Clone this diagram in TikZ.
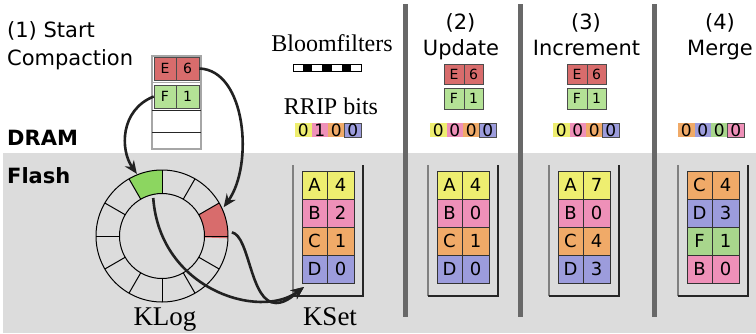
\documentclass[tikz,border=0pt]{standalone}
\usepackage{fontspec}
\setmainfont{Liberation Serif}
\setsansfont{DejaVu Sans}
\usetikzlibrary{arrows.meta}
\definecolor{bgc}{RGB}{220,220,220}
\definecolor{divc}{RGB}{104,104,104}
\definecolor{yel}{RGB}{238,238,112}
\definecolor{pnk}{RGB}{238,144,184}
\definecolor{org}{RGB}{240,170,104}
\definecolor{pur}{RGB}{156,156,220}
\definecolor{grn}{RGB}{168,214,140}
\definecolor{lgrn}{RGB}{180,226,150}
\definecolor{redc}{RGB}{216,108,108}
\definecolor{rgrn}{RGB}{140,214,96}
\tikzset{
  hd/.style={font=\sffamily\fontsize{21}{24}\selectfont, inner sep=0pt},
  bd/.style={font=\sffamily\bfseries\fontsize{21}{24}\selectfont, inner sep=0pt},
  sr/.style={font=\fontsize{24}{26}\selectfont, inner sep=0pt},
  srbig/.style={font=\fontsize{27}{29}\selectfont, inner sep=0pt},
  kc/.style={draw=black!80, line width=0.6pt, minimum height=28pt, inner sep=0pt,
    text height=13pt, text depth=0pt, font=\sffamily\fontsize{18}{18}\selectfont},
  sc/.style={draw=black!70, line width=0.6pt, inner sep=0pt, minimum height=20pt,
    text height=10pt, text depth=0pt, font=\sffamily\fontsize{14}{14}\selectfont},
  rb/.style={inner sep=0pt, minimum width=16.5pt, minimum height=14pt,
    text height=12.5pt, text depth=0pt, font=\sffamily\fontsize{17}{17}\selectfont},
  arr/.style={draw=black!87, line width=2.6pt, -{Stealth[length=13pt,width=11pt]}},
  cont/.style={line width=1.3pt},
}
\newcommand{\kcell}[6]{%
  \node[kc, fill=#6, minimum width=25pt] (#1l) at ({#2+12.5},{185+28*#3}) {#4};
  \node[kc, fill=#6, minimum width=27pt] (#1v) at ({#2+38.5},{185+28*#3}) {#5};}
\newcommand{\kbox}[2]{%
  \draw[cont, gray] ({#2-9},165) -- ({#2-9},296);
  \draw[cont, black!85] ({#2-9},296) -- ({#2+61},296) -- ({#2+61},165);
  \coordinate (#1) at ({#2+26},296);}
\newcommand{\rbit}[5]{%
  \node[rb, fill=#3, #5] (#1) at ({#2+8.25},130) {#4};}
\newcommand{\smallpair}[2]{%
  \node[sc, fill=redc, minimum width=20pt] (#1e) at ({#2+10},74.5) {E};
  \node[sc, fill=redc, minimum width=19pt] (#1s) at ({#2+29.5},74.5) {6};
  \node[sc, fill=lgrn, minimum width=20pt, minimum height=21pt] (#1f) at ({#2+10},98.5) {F};
  \node[sc, fill=lgrn, minimum width=19pt, minimum height=21pt] (#1o) at ({#2+29.5},98.5) {1};}
\begin{document}
\begin{tikzpicture}[x=1pt,y=-1pt]
\useasboundingbox (0,0) rectangle (756,333);
\fill[white] (0,0) rectangle (756,333);
\fill[bgc] (3,153) rectangle (756,333);
% dividers
\foreach \xx in {405.5,520,654} \draw[divc, line width=5pt] (\xx,4) -- (\xx,317);
% headings
\node[hd, anchor=base west] (h1a) at (7,37) {(1) Start};
\node[hd, anchor=base west] (h1b) at (7,65) {Compaction};
\node[hd, anchor=base] (h2a) at (460.5,29) {(2)};
\node[hd, anchor=base] (h2b) at (461,55) {Update};
\node[hd, anchor=base] (h3a) at (586,29) {(3)};
\node[hd, anchor=base] (h3b) at (586.5,55) {Increment};
\node[hd, anchor=base] (h4a) at (720,29) {(4)};
\node[hd, anchor=base] (h4b) at (720,55) {Merge};
\node[bd, anchor=base west] (dram) at (7,145) {DRAM};
\node[bd, anchor=base west] (flash) at (7,183) {Flash};
\node[sr, anchor=base] (bloom) at (332,51) {Bloomfilters};
\node[sr, anchor=base] (rrip) at (331,114) {RRIP bits};
\node[srbig, anchor=base] (klog) at (165,325) {KLog};
\node[srbig, anchor=base] (kset) at (330,325) {KSet};
% bloom bar
\foreach \i in {0,...,6} {
  \pgfmathsetmacro{\xa}{293+\i*68/7}
  \pgfmathsetmacro{\xb}{293+(\i+1)*68/7}
  \pgfmathtruncatemacro{\odd}{mod(\i,2)}
  \ifnum\odd=1 \fill[black] (\xa,64) rectangle (\xb,71); \fi
}
\draw[black, line width=0.8pt] (293,64) rectangle (361,71);
% DRAM buffer
\draw[gray!70, line width=1.2pt] (152,56) rectangle (201,149);
\node[sc, fill=redc, minimum width=22pt, minimum height=23pt] (be) at (165,68.5) {E};
\node[sc, fill=redc, minimum width=23pt, minimum height=23pt] (bs) at (187.5,68.5) {6};
\draw[gray!70, line width=1.2pt] (152,82.5) -- (201,82.5);
\node[sc, fill=lgrn, minimum width=22pt, minimum height=23pt] (bf) at (165,96.5) {F};
\node[sc, fill=lgrn, minimum width=23pt, minimum height=23pt] (bo) at (187.5,96.5) {1};
\draw[black!85, line width=1pt] (152,110) -- (201,110) (152,132) -- (201,132);
% small pairs
\smallpair{p2}{444}
\smallpair{p3}{567}
% RRIP bits
\rbit{r1a}{295}{yel}{0}{}
\rbit{r1b}{311.5}{pnk}{1}{}
\rbit{r1c}{328}{org}{0}{}
\rbit{r1d}{344.5}{pur}{0}{draw=black!70}
\rbit{r2a}{430}{yel}{0}{}
\rbit{r2b}{446.5}{pnk}{0}{}
\rbit{r2c}{463}{org}{0}{}
\rbit{r2d}{479.5}{pur}{0}{draw=black!70}
\rbit{r3a}{553}{yel}{0}{}
\rbit{r3b}{569.5}{pnk}{0}{}
\rbit{r3c}{586}{org}{0}{}
\rbit{r3d}{602.5}{pur}{0}{draw=black!70}
\rbit{r4a}{678}{org}{0}{}
\rbit{r4b}{694.5}{pur}{0}{}
\rbit{r4c}{711}{grn}{0}{}
\rbit{r4d}{727.5}{pnk}{0}{draw=black!70}
% KSets
\kbox{k1}{302}
\kbox{k2}{437}
\kbox{k3}{558}
\kbox{k4}{687}
\kcell{a1}{302}{0}{A}{4}{yel}
\kcell{b1}{302}{1}{B}{2}{pnk}
\kcell{c1}{302}{2}{C}{1}{org}
\kcell{d1}{302}{3}{D}{0}{pur}
\kcell{a2}{437}{0}{A}{4}{yel}
\kcell{b2}{437}{1}{B}{0}{pnk}
\kcell{c2}{437}{2}{C}{1}{org}
\kcell{d2}{437}{3}{D}{0}{pur}
\kcell{a3}{558}{0}{A}{7}{yel}
\kcell{b3}{558}{1}{B}{0}{pnk}
\kcell{c3}{558}{2}{C}{4}{org}
\kcell{d3}{558}{3}{D}{3}{pur}
\kcell{a4}{687}{0}{C}{4}{org}
\kcell{b4}{687}{1}{D}{3}{pur}
\kcell{c4}{687}{2}{F}{1}{grn}
\kcell{d4}{687}{3}{B}{0}{pnk}
% KLog ring
\begin{scope}[shift={(162,236)}, y=1pt]
  \fill[rgrn] (90:42.5) -- (90:66) arc (90:120:66) -- (120:42.5) arc (120:90:42.5) -- cycle;
  \fill[redc] (-2:42.5) -- (-2:66) arc (-2:30:66) -- (30:42.5) arc (30:-2:42.5) -- cycle;
  \draw[black, line width=1pt] (0,0) circle (66) (0,0) circle (42.5);
  \foreach \a in {0,30,...,330} \draw[black, line width=1pt] (\a:42.5) -- (\a:66);
  \coordinate (greenTop) at (112:67);
  \coordinate (greenIn) at (103:39);
  \coordinate (redTop) at (25:68);
  \coordinate (redOut) at (3:70);
\end{scope}
\coordinate (ksetIn) at (304,287);
% arrows
\draw[arr] (bf.west) .. controls (120,110) and (120,150) .. (greenTop);
\draw[arr] (bs.east) .. controls (246,70) and (254,165) .. (redTop);
\draw[arr] (greenIn) .. controls (160,290) and (260,320) .. (ksetIn);
\draw[arr] (redOut) .. controls (250,236) and (250,303) .. (276,303) .. controls (287,303) and (296,293) .. (ksetIn);
\end{tikzpicture}
\end{document}
